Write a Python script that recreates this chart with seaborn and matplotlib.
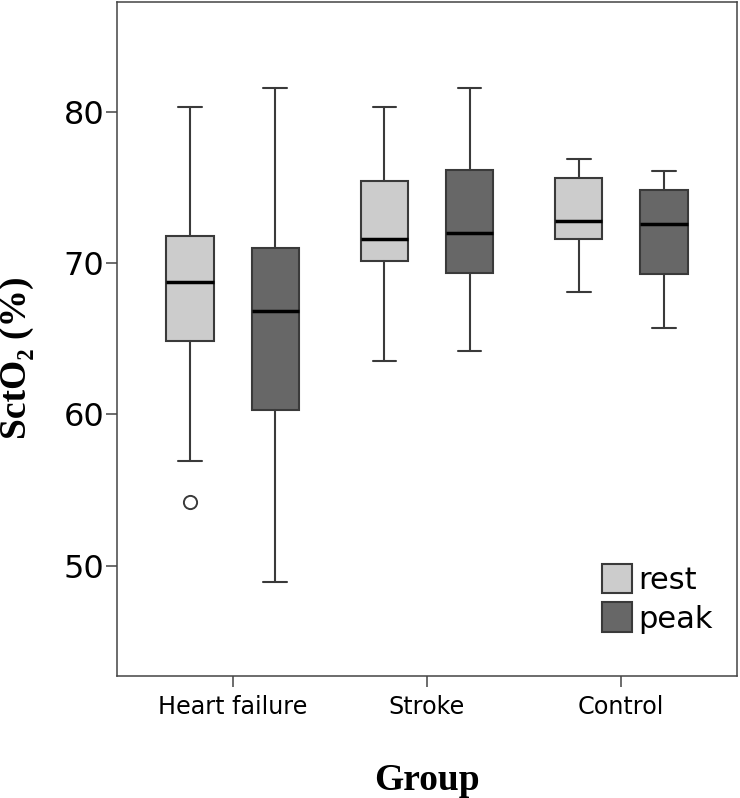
import matplotlib
matplotlib.use("Agg")
import matplotlib.pyplot as plt
import matplotlib.patches as mpatches
import seaborn as sns
import numpy as np

# ---- data ----
groups = ["Heart failure", "Stroke", "Control"]
conditions = ["rest", "peak"]
# order: [HF, Stroke, Control]
rest_whislo = [56.9, 63.5, 68.1]
rest_q1 = [64.85, 70.1, 71.6]
rest_med = [68.75, 71.6, 72.75]
rest_q3 = [71.8, 75.45, 75.6]
rest_whishi = [80.3, 80.3, 76.9]
rest_fliers = [[54.2], [], []]

peak_whislo = [48.9, 64.2, 65.7]
peak_q1 = [60.3, 69.35, 69.25]
peak_med = [66.8, 71.95, 72.55]
peak_q3 = [71.0, 76.15, 74.85]
peak_whishi = [81.55, 81.55, 76.1]
peak_fliers = [[], [], []]

yticks = [50, 60, 70, 80]

colors = {"rest": "#cccccc", "peak": "#676767"}

sns.set_style("ticks")
plt.rcParams["font.family"] = ["DejaVu Sans"]
plt.rcParams["text.color"] = "black"
plt.rcParams["xtick.labelcolor"] = "black"
plt.rcParams["ytick.labelcolor"] = "black"

fig = plt.figure(figsize=(7.40, 7.98), dpi=100)
ax = fig.add_axes([117 / 740, 122 / 798, 620 / 740, 674 / 798])

edge = "#3a3a3a"
offset = 0.219
width = 0.245

def make_stats(whislo, q1, med, q3, whishi, fliers):
    out = []
    for i in range(len(whislo)):
        out.append(dict(whislo=whislo[i], q1=q1[i], med=med[i], q3=q3[i],
                        whishi=whishi[i], fliers=fliers[i], label=groups[i]))
    return out

series = {
    "rest": make_stats(rest_whislo, rest_q1, rest_med, rest_q3, rest_whishi, rest_fliers),
    "peak": make_stats(peak_whislo, peak_q1, peak_med, peak_q3, peak_whishi, peak_fliers),
}

base = np.arange(len(groups))
for k, cond in enumerate(conditions):
    pos = base + (-offset if cond == "rest" else offset)
    ax.bxp(series[cond], positions=pos, widths=width, patch_artist=True,
           showfliers=True, manage_ticks=False,
           boxprops=dict(facecolor=colors[cond], edgecolor=edge, linewidth=1.5),
           medianprops=dict(color="black", linewidth=2.5),
           whiskerprops=dict(color=edge, linewidth=1.5),
           capprops=dict(color=edge, linewidth=1.5),
           capwidths=width * 0.5,
           flierprops=dict(marker="o", markerfacecolor="white",
                           markeredgecolor=edge, markersize=9.5,
                           markeredgewidth=1.4))

ax.set_xlim(-0.596, 2.596)
ax.set_ylim(42.7, 87.25)
ax.set_xticks(base)
ax.set_xticklabels(groups, fontsize=17.2, color="black")
ax.set_yticks(yticks)
ax.set_yticklabels([str(t) for t in yticks], fontsize=23, color="black")

for s in ax.spines.values():
    s.set_visible(True)
    s.set_color("#444444")
    s.set_linewidth(1.1)
ax.tick_params(axis="y", length=8, width=1.1, color="#444444", pad=1)
ax.tick_params(axis="x", length=8, width=1.1, color="#444444", pad=6)

handles = [mpatches.Patch(facecolor=colors[c], edgecolor=edge, linewidth=1.5, label=c)
           for c in conditions]
leg = ax.legend(handles=handles, loc="lower left", bbox_to_anchor=(0.782, 0.063),
                frameon=False, fontsize=22, handlelength=1.0, handleheight=1.1,
                handletextpad=0.2, labelspacing=0.25, borderpad=0, borderaxespad=0)
for t in leg.get_texts():
    t.set_color("black")

fig.text(17 / 740, 1 - 358 / 798, "SctO₂ (%)", rotation=90, ha="center", va="center",
         fontsize=27, fontweight="bold", family=["Liberation Serif", "DejaVu Serif"],
         color="black")
fig.text(427 / 740, 1 - 780 / 798, "Group", ha="center", va="center",
         fontsize=27, fontweight="bold", family=["Liberation Serif", "DejaVu Serif"],
         color="black")

fig.savefig("out.png", dpi=100)
